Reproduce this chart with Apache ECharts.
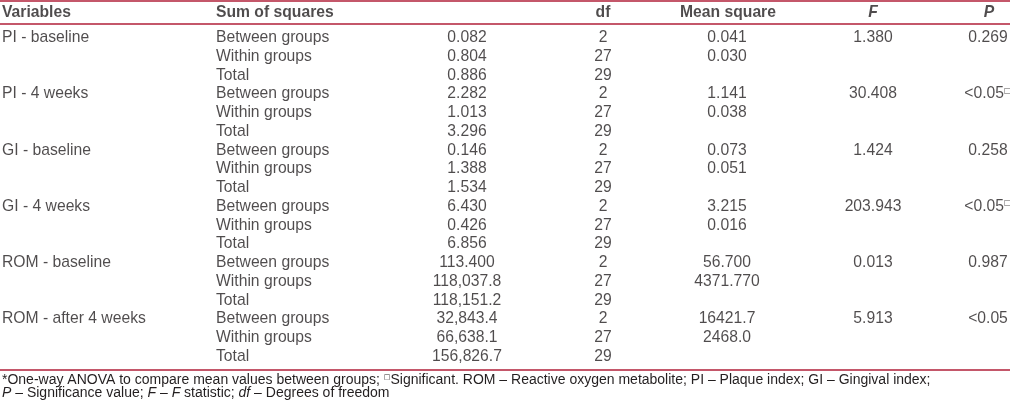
<!DOCTYPE html>
<html><head><meta charset="utf-8">
<script src="https://cdn.jsdelivr.net/npm/echarts@6/dist/echarts.min.js"></script>
<style>html,body{margin:0;padding:0;background:#fff}#c{width:1010px;height:405px}</style>
</head><body><div id="c"></div>
<script>
// ---- data ----
var headers = ['Variables', 'Sum of squares', 'df', 'Mean square', 'F', 'P'];
var variables = ['PI - baseline', 'PI - 4 weeks', 'GI - baseline', 'GI - 4 weeks', 'ROM - baseline', 'ROM - after 4 weeks'];
var sources = ['Between groups', 'Within groups', 'Total'];
var sumSquares = ['0.082', '0.804', '0.886', '2.282', '1.013', '3.296', '0.146', '1.388', '1.534',
                  '6.430', '0.426', '6.856', '113.400', '118,037.8', '118,151.2', '32,843.4', '66,638.1', '156,826.7'];
var dfValues = [2, 27, 29, 2, 27, 29, 2, 27, 29, 2, 27, 29, 2, 27, 29, 2, 27, 29];
var meanSquares = ['0.041', '0.030', '', '1.141', '0.038', '', '0.073', '0.051', '', '3.215', '0.016', '',
                   '56.700', '4371.770', '', '16421.7', '2468.0', ''];
var fStats = ['1.380', '30.408', '1.424', '203.943', '0.013', '5.913'];
var pValues = ['0.269', '<0.05', '0.258', '<0.05', '0.987', '<0.05'];
var significant = [false, true, false, true, false, false];
var footnote1 = ['*One-way ANOVA to compare mean values between groups; ', '\u25A1', 'Significant. ROM \u2013 Reactive oxygen metabolite; PI \u2013 Plaque index; GI \u2013 Gingival index;'];

// ---- layout ----
var FONT = '"Liberation Sans", Arial, Helvetica, sans-serif';
var FS = 15.7;
var TXT = '#231f20';
var RED = '#b01f38';
var colX = {variable: 2, source: 216, ss: 467, df: 603, ms: 727, f: 873, p: 988};
var headerX = [2, 216, 603, 728, 873, 989];
var headerAlign = ['left', 'left', 'center', 'center', 'center', 'center'];
var HEADER_ROW = -0.333;

function cellSeries(name, x, align, rows, extra) {
  var data = [];
  rows.forEach(function (r) { data.push([x, r.row, r.text]); });
  var s = {
    name: name, type: 'scatter', symbolSize: 0, silent: true, animation: false,
    data: data,
    label: {
      show: true, position: [0, 0], align: align, verticalAlign: 'middle',
      fontFamily: FONT, fontSize: FS, color: TXT,
      formatter: function (p) { return p.value[2]; }
    }
  };
  if (extra) extra(s);
  return s;
}

var series = [];
// header
var headerRows = headers.map(function (h, i) { return {x: headerX[i], align: headerAlign[i], text: h}; });
headerRows.forEach(function (h, i) {
  series.push({
    type: 'scatter', symbolSize: 0, silent: true, animation: false,
    data: [[h.x, HEADER_ROW, h.text]],
    label: {
      show: true, position: [0, 0], align: h.align, verticalAlign: 'middle',
      fontFamily: FONT, fontSize: FS, fontWeight: 'bold', color: TXT,
      fontStyle: (h.text === 'F' || h.text === 'P') ? 'italic' : 'normal',
      formatter: function (p) { return p.value[2]; }
    }
  });
});

series.push(cellSeries('variables', colX.variable, 'left',
  variables.map(function (v, i) { return {row: i * 3 + 1, text: v}; })));
series.push(cellSeries('sources', colX.source, 'left',
  sumSquares.map(function (v, i) { return {row: i + 1, text: sources[i % 3]}; })));
series.push(cellSeries('ss', colX.ss, 'center',
  sumSquares.map(function (v, i) { return {row: i + 1, text: v}; })));
series.push(cellSeries('df', colX.df, 'center',
  dfValues.map(function (v, i) { return {row: i + 1, text: String(v)}; })));
series.push(cellSeries('ms', colX.ms, 'center',
  meanSquares.map(function (v, i) { return {row: i + 1, text: v}; }).filter(function (r) { return r.text !== ''; })));
series.push(cellSeries('f', colX.f, 'center',
  fStats.map(function (v, i) { return {row: i * 3 + 1, text: v}; })));
series.push(cellSeries('p', colX.p, 'center',
  pValues.map(function (v, i) { return {row: i * 3 + 1, text: v + (significant[i] ? '{sup|\u25A1}' : '')}; }),
  function (s) {
    s.label.rich = {sup: {fontSize: 8, fontFamily: '"DejaVu Sans", sans-serif', color: TXT, padding: [0, 0, 7, 0]}};
  }));

var chart = echarts.init(document.getElementById('c'), null, {renderer: 'canvas'});
chart.setOption({
  animation: false,
  backgroundColor: '#ffffff',
  grid: {left: 0, right: 0, top: 0.18, height: 394},
  xAxis: {type: 'value', min: 0, max: 1010, show: false},
  yAxis: {type: 'value', min: -1, max: 20, inverse: true, show: false},
  series: series,
  graphic: [
    {type: 'line', shape: {x1: 0, y1: 1, x2: 1010, y2: 1}, style: {stroke: RED, lineWidth: 1.5}, silent: true},
    {type: 'line', shape: {x1: 0, y1: 24, x2: 1010, y2: 24}, style: {stroke: RED, lineWidth: 1.5}, silent: true},
    {type: 'line', shape: {x1: 0, y1: 370, x2: 1010, y2: 370}, style: {stroke: RED, lineWidth: 1.5}, silent: true},
    {type: 'text', left: 2, top: 373, silent: true,
      style: {
        text: footnote1[0] + '{sup|' + footnote1[1] + '}' + footnote1[2],
        fontFamily: FONT, fontSize: 14, fill: TXT,
        rich: {sup: {fontSize: 7, fontFamily: '"DejaVu Sans", sans-serif', fill: TXT, padding: [0, 0, 6, 0]}}
      }},
    {type: 'text', left: 2, top: 386.5, silent: true,
      style: {
        text: '{i|P} \u2013 Significance value; {i|F} \u2013 {i|F} statistic; {i|df} \u2013 Degrees of freedom',
        fontFamily: FONT, fontSize: 14, fill: TXT,
        rich: {i: {fontStyle: 'italic', fontFamily: FONT, fontSize: 14, fill: TXT}}
      }}
  ]
});
</script>
</body></html>
